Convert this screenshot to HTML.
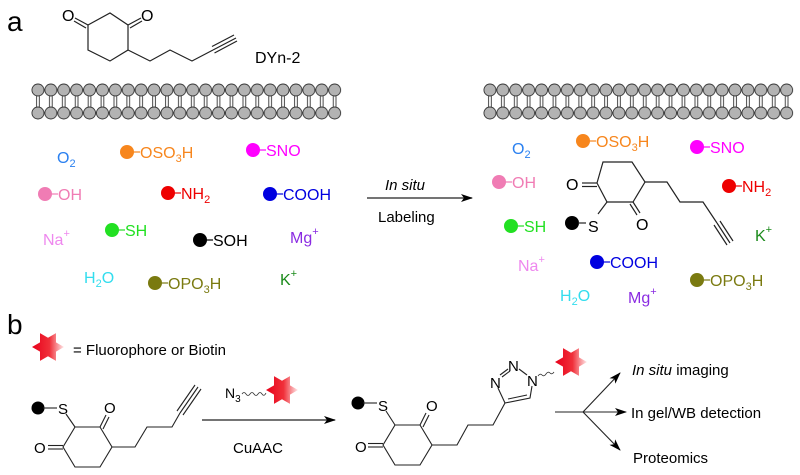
<!DOCTYPE html>
<html><head><meta charset="utf-8"><style>
html,body{margin:0;padding:0;background:#fff;}
svg{display:block;font-family:"Liberation Sans",Arial,sans-serif;}
</style></head><body>
<svg width="800" height="475" viewBox="0 0 800 475" xmlns="http://www.w3.org/2000/svg">
<defs>
<pattern id="mem" x="31.5" y="0" width="12.9" height="475" patternUnits="userSpaceOnUse">
<line x1="5.1" y1="95" x2="5.1" y2="108" stroke="#333" stroke-width="0.9"/>
<line x1="7.8" y1="95" x2="7.8" y2="108" stroke="#333" stroke-width="0.9"/>
<circle cx="6.45" cy="90" r="6" fill="#b3b3b3" stroke="#333" stroke-width="0.9"/>
<circle cx="6.45" cy="113" r="6" fill="#b3b3b3" stroke="#333" stroke-width="0.9"/>
</pattern>
<pattern id="mem2" x="483.5" y="0" width="12.9" height="475" patternUnits="userSpaceOnUse">
<line x1="5.1" y1="95" x2="5.1" y2="108" stroke="#333" stroke-width="0.9"/>
<line x1="7.8" y1="95" x2="7.8" y2="108" stroke="#333" stroke-width="0.9"/>
<circle cx="6.45" cy="90" r="6" fill="#b3b3b3" stroke="#333" stroke-width="0.9"/>
<circle cx="6.45" cy="113" r="6" fill="#b3b3b3" stroke="#333" stroke-width="0.9"/>
</pattern>
<linearGradient id="sg" x1="0" y1="0" x2="1" y2="0">
<stop offset="0" stop-color="#e8001a"/><stop offset="0.55" stop-color="#f0303a"/><stop offset="1" stop-color="#ffe8e8"/>
</linearGradient>
<polygon id="star" points="-16,0 -8,4.6 -8,13.9 0,9.2 8,13.9 8,4.6 16,0 8,-4.6 8,-13.9 0,-9.2 -8,-13.9 -8,-4.6" fill="url(#sg)"/>
<marker id="ah" viewBox="0 0 12 8" refX="11" refY="4" markerWidth="12" markerHeight="8" markerUnits="userSpaceOnUse" orient="auto">
<path d="M0,0 L12,4 L0,8 L3,4 Z" fill="#000"/></marker>
</defs>

<text x="7" y="31" font-size="28">a</text>
<text x="7" y="334" font-size="28">b</text>

<!-- DYn-2 -->
<g stroke="#222" stroke-width="1.2" fill="none">
<polyline points="88,25 110,13 128,25 128,50 110,61 88,50 88,25"/>
<line x1="88" y1="25" x2="75" y2="18"/><line x1="86" y1="28" x2="74" y2="21"/>
<line x1="128" y1="25" x2="141" y2="18"/><line x1="130" y1="28" x2="142" y2="21"/>
<polyline points="128,50 150,61 170,50 192,61 213,50"/>
<line x1="213" y1="50" x2="236" y2="38"/><line x1="212" y1="46.5" x2="234" y2="35"/><line x1="214.5" y1="53" x2="237" y2="41"/>
</g>
<text x="62" y="21" font-size="16">O</text><text x="141" y="21" font-size="16">O</text>
<text x="255" y="63" font-size="16">DYn-2</text>

<rect x="31.5" y="80" width="309.6" height="40" fill="url(#mem)"/>
<rect x="483.5" y="80" width="309.6" height="40" fill="url(#mem2)"/>

<!-- left species -->
<g font-size="16">
<text x="57" y="163" fill="#2a80f0">O<tspan font-size="11" dy="4">2</tspan></text>
<circle cx="127" cy="152" r="7" fill="#f7861d"/><line x1="133" y1="152" x2="140" y2="152" stroke="#f7861d" stroke-width="1.2"/>
<text x="140" y="158" fill="#f7861d">OSO<tspan font-size="11" dy="4">3</tspan><tspan dy="-4">H</tspan></text>
<circle cx="253" cy="150" r="7" fill="#ff00ff"/><line x1="259" y1="150" x2="266" y2="150" stroke="#ff00ff" stroke-width="1.2"/>
<text x="266" y="156" fill="#ff00ff">SNO</text>
<circle cx="45" cy="194" r="7" fill="#f07cb4"/><line x1="51" y1="194" x2="58" y2="194" stroke="#f07cb4" stroke-width="1.2"/>
<text x="58" y="200" fill="#f07cb4">OH</text>
<circle cx="168" cy="193" r="7" fill="#ee0000"/><line x1="174" y1="193" x2="181" y2="193" stroke="#ee0000" stroke-width="1.2"/>
<text x="181" y="199" fill="#ee0000">NH<tspan font-size="11" dy="4">2</tspan></text>
<circle cx="270" cy="194" r="7" fill="#0000e0"/><line x1="276" y1="194" x2="283" y2="194" stroke="#0000e0" stroke-width="1.2"/>
<text x="283" y="200" fill="#0000e0">COOH</text>
<text x="43" y="245" fill="#ee88ee">Na<tspan font-size="11" dy="-8">+</tspan></text>
<circle cx="112" cy="230" r="7" fill="#22e022"/><line x1="118" y1="230" x2="125" y2="230" stroke="#22e022" stroke-width="1.2"/>
<text x="125" y="236" fill="#22e022">SH</text>
<circle cx="200" cy="240" r="7" fill="#000"/><line x1="206" y1="240" x2="213" y2="240" stroke="#000" stroke-width="1.2"/>
<text x="213" y="246" fill="#000">SOH</text>
<text x="290" y="243" fill="#8a2be2">Mg<tspan font-size="11" dy="-8">+</tspan></text>
<text x="84" y="283" fill="#33ddee">H<tspan font-size="11" dy="4">2</tspan><tspan dy="-4">O</tspan></text>
<circle cx="155" cy="283" r="7" fill="#7a7a10"/><line x1="161" y1="283" x2="168" y2="283" stroke="#7a7a10" stroke-width="1.2"/>
<text x="168" y="289" fill="#7a7a10">OPO<tspan font-size="11" dy="4">3</tspan><tspan dy="-4">H</tspan></text>
<text x="280" y="285" fill="#1a8a1a">K<tspan font-size="11" dy="-8">+</tspan></text>
</g>

<!-- arrow a -->
<line x1="367" y1="198" x2="472" y2="198" stroke="#222" stroke-width="1.2" marker-end="url(#ah)"/>
<text x="385" y="190" font-size="15" font-style="italic">In situ</text>
<text x="378" y="222" font-size="15">Labeling</text>

<!-- right species -->
<g font-size="16">
<text x="512" y="154" fill="#2a80f0">O<tspan font-size="11" dy="4">2</tspan></text>
<circle cx="583" cy="141" r="7" fill="#f7861d"/><line x1="589" y1="141" x2="596" y2="141" stroke="#f7861d" stroke-width="1.2"/>
<text x="596" y="147" fill="#f7861d">OSO<tspan font-size="11" dy="4">3</tspan><tspan dy="-4">H</tspan></text>
<circle cx="697" cy="147" r="7" fill="#ff00ff"/><line x1="703" y1="147" x2="710" y2="147" stroke="#ff00ff" stroke-width="1.2"/>
<text x="710" y="153" fill="#ff00ff">SNO</text>
<circle cx="499" cy="182" r="7" fill="#f07cb4"/><line x1="505" y1="182" x2="512" y2="182" stroke="#f07cb4" stroke-width="1.2"/>
<text x="512" y="188" fill="#f07cb4">OH</text>
<circle cx="729" cy="186" r="7" fill="#ee0000"/><line x1="735" y1="186" x2="742" y2="186" stroke="#ee0000" stroke-width="1.2"/>
<text x="742" y="192" fill="#ee0000">NH<tspan font-size="11" dy="4">2</tspan></text>
<circle cx="511" cy="226" r="7" fill="#22e022"/><line x1="517" y1="226" x2="524" y2="226" stroke="#22e022" stroke-width="1.2"/>
<text x="524" y="232" fill="#22e022">SH</text>
<text x="755" y="241" fill="#1a8a1a">K<tspan font-size="11" dy="-8">+</tspan></text>
<text x="518" y="271" fill="#ee88ee">Na<tspan font-size="11" dy="-8">+</tspan></text>
<circle cx="597" cy="262" r="7" fill="#0000e0"/><line x1="603" y1="262" x2="610" y2="262" stroke="#0000e0" stroke-width="1.2"/>
<text x="610" y="268" fill="#0000e0">COOH</text>
<circle cx="697" cy="280" r="7" fill="#7a7a10"/><line x1="703" y1="280" x2="710" y2="280" stroke="#7a7a10" stroke-width="1.2"/>
<text x="710" y="286" fill="#7a7a10">OPO<tspan font-size="11" dy="4">3</tspan><tspan dy="-4">H</tspan></text>
<text x="560" y="301" fill="#33ddee">H<tspan font-size="11" dy="4">2</tspan><tspan dy="-4">O</tspan></text>
<text x="628" y="303" fill="#8a2be2">Mg<tspan font-size="11" dy="-8">+</tspan></text>
</g>
<!-- labeled molecule right -->
<circle cx="572" cy="223" r="7" fill="#000"/>
<g stroke="#222" stroke-width="1.2" fill="none">
<line x1="578" y1="223" x2="586" y2="223"/>
<polyline points="597,183 603,162 632,162 645,182 633,202 607,202 597,183"/>
<line x1="597" y1="183" x2="582" y2="183"/><line x1="597" y1="186.5" x2="582" y2="186.5"/>
<line x1="607" y1="202" x2="598" y2="214"/>
<line x1="633" y1="202" x2="640" y2="213"/><line x1="630" y1="204" x2="637" y2="215"/>
<polyline points="645,182 667,182 680,202 703,202 717,223"/>
<line x1="717" y1="223" x2="730" y2="243"/><line x1="714" y1="225" x2="727" y2="245"/><line x1="720" y1="221" x2="733" y2="241"/>
</g>
<g font-size="16"><text x="566" y="190">O</text><text x="636" y="230">O</text><text x="588" y="232">S</text></g>

<!-- panel b -->
<use href="#star" x="48" y="347"/>
<text x="73" y="355" font-size="15">= Fluorophore or Biotin</text>

<circle cx="38" cy="408" r="6.5" fill="#000"/>
<g stroke="#222" stroke-width="1.1" fill="none">
<line x1="43" y1="408" x2="57" y2="408"/>
<polyline points="75,427 100,427 112,447 100,467 75,467 63,447 75,427"/>
<line x1="66" y1="414" x2="75" y2="427"/>
<line x1="100" y1="427" x2="106" y2="415"/><line x1="103" y1="429" x2="109" y2="417"/>
<line x1="63" y1="445.5" x2="48" y2="445.5"/><line x1="63" y1="449" x2="48" y2="449"/>
<polyline points="112,447 135,447 147,427 172,427 180,413"/>
<line x1="180" y1="413" x2="198" y2="387"/><line x1="177" y1="411" x2="195" y2="385"/><line x1="183" y1="415" x2="201" y2="389"/>
</g>
<g font-size="15"><text x="58" y="414">S</text><text x="104" y="413">O</text><text x="34" y="453">O</text></g>

<text x="225" y="398" font-size="14">N<tspan font-size="10" dy="4">3</tspan></text>
<path d="M242,394 q2,-3 4,0 t4,0 t4,0 t4,0 t4,0 t4,-1" stroke="#333" fill="none" stroke-width="0.8"/>
<use href="#star" x="282" y="390"/>
<line x1="202" y1="420" x2="335" y2="420" stroke="#222" stroke-width="1.2" marker-end="url(#ah)"/>
<text x="258" y="453" font-size="15" text-anchor="middle">CuAAC</text>

<circle cx="358" cy="403" r="6.5" fill="#000"/>
<g stroke="#222" stroke-width="1.1" fill="none">
<line x1="363" y1="403" x2="377" y2="403"/>
<polyline points="395,425 420,425 432,445 420,465 395,465 383,445 395,425"/>
<line x1="386" y1="411" x2="395" y2="425"/>
<line x1="420" y1="425" x2="426" y2="413"/><line x1="423" y1="427" x2="429" y2="415"/>
<line x1="383" y1="443.5" x2="368" y2="443.5"/><line x1="383" y1="447" x2="368" y2="447"/>
<polyline points="432,445 457,445 468,425 493,425 505,403"/>
<polyline points="505,403 530,398 532,386"/>
<line x1="508" y1="399" x2="527" y2="395"/>
<line x1="505" y1="403" x2="498" y2="388"/>
<line x1="500" y1="375" x2="508" y2="369"/><line x1="502" y1="377" x2="510" y2="371"/>
<line x1="519" y1="369" x2="527" y2="375"/>
</g>
<g font-size="15"><text x="378" y="411">S</text><text x="426" y="411">O</text><text x="355" y="452">O</text>
<text x="490" y="388">N</text><text x="508" y="371">N</text><text x="527" y="386">N</text></g>
<path d="M538,376 q2,-3 4,-1 t4,-1 t4,-1 t4,-1" stroke="#333" fill="none" stroke-width="0.8"/>
<use href="#star" x="571" y="362"/>

<g stroke="#222" stroke-width="1.1" fill="none">
<line x1="555" y1="412" x2="583" y2="412"/>
<line x1="583" y1="412" x2="620" y2="373" marker-end="url(#ah)"/>
<line x1="583" y1="412" x2="626" y2="412" marker-end="url(#ah)"/>
<line x1="583" y1="412" x2="620" y2="450" marker-end="url(#ah)"/>
</g>
<g font-size="15">
<text x="632" y="375"><tspan font-style="italic">In situ</tspan> imaging</text>
<text x="631" y="418">In gel/WB detection</text>
<text x="633" y="463">Proteomics</text>
</g>
</svg>
</body></html>
